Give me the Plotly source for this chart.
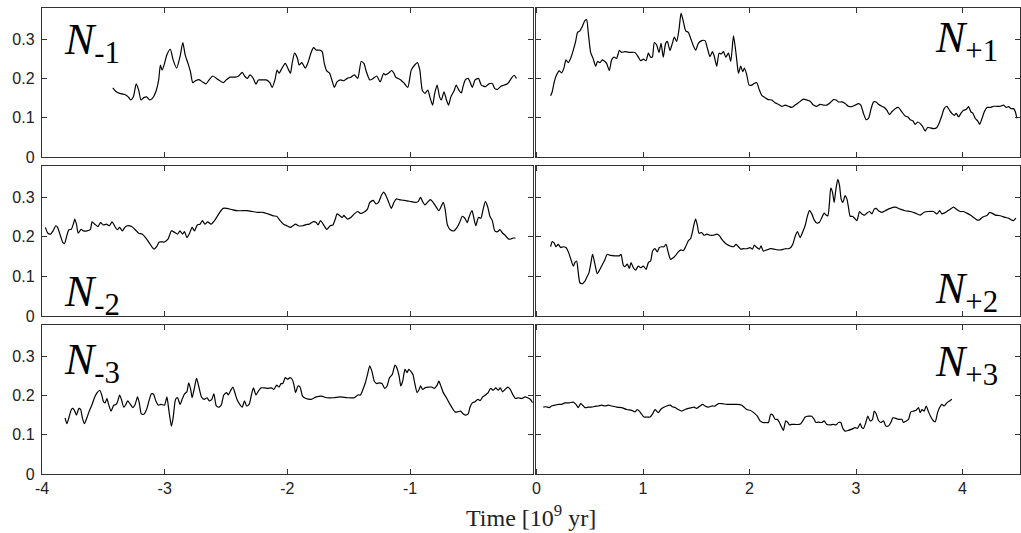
import plotly.graph_objects as go

# ---- data (time in 10^9 yr, values) ----
t_m1 = [-3.423,-3.395,-3.367,-3.325,-3.297,-3.277,-3.255,-3.232,-3.212,-3.193,-3.170,-3.148,-3.122,-3.100,-3.072,-3.049,-3.035,-3.021,-3.001,-2.982,-2.954,-2.931,-2.903,-2.875,-2.852,-2.833,-2.810,-2.790,-2.771,-2.748,-2.720,-2.692,-2.664,-2.636,-2.608,-2.565,-2.523,-2.495,-2.467,-2.425,-2.397,-2.368,-2.349,-2.326,-2.304,-2.278,-2.256,-2.236,-2.214,-2.172,-2.143,-2.124,-2.101,-2.084,-2.068,-2.045,-2.017,-1.989,-1.975,-1.961,-1.941,-1.918,-1.904,-1.882,-1.854,-1.834,-1.806,-1.786,-1.764,-1.736,-1.716,-1.699,-1.679,-1.657,-1.637,-1.617,-1.595,-1.567,-1.539,-1.511,-1.482,-1.454,-1.426,-1.398,-1.376,-1.356,-1.328,-1.300,-1.271,-1.243,-1.215,-1.201,-1.173,-1.150,-1.131,-1.117,-1.075,-1.046,-1.018,-0.990,-0.962,-0.940,-0.920,-0.900,-0.878,-0.855,-0.835,-0.816,-0.799,-0.779,-0.759,-0.745,-0.723,-0.703,-0.686,-0.667,-0.639,-0.624,-0.602,-0.582,-0.568,-0.549,-0.526,-0.506,-0.492,-0.470,-0.442,-0.419,-0.385,-0.357,-0.329,-0.309,-0.287,-0.259,-0.231,-0.203,-0.174,-0.152,-0.132]
v_m1 = [0.176,0.166,0.162,0.159,0.153,0.145,0.153,0.186,0.170,0.145,0.151,0.153,0.145,0.149,0.166,0.196,0.234,0.221,0.238,0.260,0.274,0.247,0.226,0.255,0.291,0.260,0.238,0.217,0.189,0.194,0.197,0.191,0.186,0.197,0.206,0.197,0.189,0.197,0.203,0.203,0.206,0.215,0.206,0.200,0.209,0.200,0.185,0.196,0.196,0.196,0.189,0.177,0.196,0.221,0.213,0.225,0.238,0.221,0.213,0.238,0.264,0.251,0.234,0.240,0.226,0.238,0.266,0.278,0.272,0.272,0.268,0.238,0.219,0.214,0.196,0.177,0.191,0.196,0.194,0.200,0.203,0.209,0.200,0.243,0.238,0.217,0.196,0.200,0.206,0.191,0.213,0.209,0.214,0.220,0.213,0.203,0.196,0.187,0.177,0.221,0.234,0.240,0.221,0.170,0.162,0.170,0.149,0.132,0.162,0.183,0.153,0.145,0.166,0.145,0.132,0.153,0.170,0.183,0.170,0.163,0.179,0.196,0.200,0.187,0.177,0.196,0.200,0.183,0.179,0.186,0.187,0.174,0.172,0.180,0.183,0.187,0.200,0.208,0.200]

t_p1 = [0.132,0.147,0.166,0.188,0.213,0.235,0.257,0.276,0.298,0.320,0.345,0.367,0.385,0.407,0.429,0.454,0.470,0.486,0.508,0.533,0.555,0.573,0.595,0.617,0.636,0.658,0.683,0.705,0.727,0.752,0.777,0.799,0.830,0.877,0.924,0.956,0.977,1.003,1.028,1.050,1.071,1.087,1.106,1.128,1.150,1.169,1.190,1.212,1.228,1.253,1.275,1.294,1.316,1.338,1.357,1.378,1.400,1.425,1.447,1.472,1.495,1.519,1.551,1.582,1.604,1.629,1.651,1.670,1.692,1.714,1.733,1.755,1.777,1.802,1.824,1.849,1.865,1.880,1.896,1.917,1.936,1.952,1.974,1.996,2.021,2.042,2.068,2.090,2.115,2.146,2.177,2.209,2.240,2.271,2.303,2.334,2.366,2.397,2.428,2.459,2.506,2.538,2.569,2.600,2.632,2.663,2.694,2.726,2.757,2.788,2.813,2.835,2.867,2.898,2.929,2.961,2.992,3.023,3.045,3.070,3.095,3.117,3.142,3.164,3.189,3.211,3.242,3.267,3.289,3.314,3.336,3.368,3.399,3.430,3.462,3.487,3.509,3.534,3.556,3.581,3.603,3.625,3.650,3.672,3.697,3.728,3.760,3.785,3.807,3.828,3.853,3.878,3.900,3.922,3.941,3.963,3.985,4.010,4.035,4.057,4.079,4.098,4.120,4.142,4.161,4.183,4.205,4.230,4.261,4.292,4.324,4.355,4.386,4.411,4.433,4.455,4.480,4.496,4.511]
v_p1 = [0.156,0.166,0.191,0.209,0.219,0.214,0.226,0.247,0.240,0.251,0.272,0.294,0.317,0.321,0.332,0.347,0.349,0.315,0.266,0.249,0.231,0.243,0.240,0.247,0.244,0.238,0.220,0.247,0.254,0.251,0.271,0.266,0.268,0.266,0.266,0.254,0.245,0.249,0.245,0.264,0.254,0.254,0.291,0.285,0.266,0.289,0.254,0.289,0.294,0.271,0.289,0.305,0.294,0.325,0.366,0.345,0.321,0.317,0.302,0.283,0.272,0.289,0.296,0.296,0.277,0.255,0.268,0.255,0.231,0.264,0.262,0.268,0.254,0.264,0.243,0.308,0.281,0.247,0.213,0.231,0.217,0.226,0.209,0.183,0.183,0.187,0.189,0.172,0.157,0.151,0.146,0.145,0.138,0.134,0.129,0.132,0.129,0.126,0.132,0.138,0.147,0.145,0.142,0.132,0.129,0.134,0.132,0.132,0.138,0.146,0.145,0.140,0.140,0.136,0.129,0.128,0.132,0.136,0.132,0.111,0.095,0.098,0.123,0.140,0.140,0.134,0.129,0.126,0.119,0.108,0.115,0.123,0.126,0.115,0.104,0.102,0.095,0.092,0.083,0.089,0.085,0.078,0.066,0.075,0.074,0.072,0.075,0.089,0.106,0.123,0.129,0.119,0.111,0.106,0.111,0.102,0.111,0.119,0.121,0.128,0.115,0.111,0.098,0.092,0.083,0.098,0.115,0.126,0.126,0.129,0.129,0.129,0.132,0.126,0.128,0.123,0.123,0.115,0.098]

t_m2 = [-3.972,-3.952,-3.930,-3.910,-3.887,-3.873,-3.851,-3.831,-3.817,-3.797,-3.781,-3.761,-3.741,-3.733,-3.719,-3.705,-3.682,-3.662,-3.634,-3.606,-3.592,-3.570,-3.544,-3.522,-3.499,-3.474,-3.451,-3.429,-3.409,-3.387,-3.367,-3.345,-3.325,-3.305,-3.269,-3.240,-3.212,-3.184,-3.156,-3.128,-3.100,-3.086,-3.066,-3.044,-3.001,-2.973,-2.945,-2.917,-2.895,-2.875,-2.855,-2.838,-2.819,-2.800,-2.776,-2.757,-2.734,-2.712,-2.692,-2.672,-2.650,-2.622,-2.594,-2.571,-2.551,-2.523,-2.495,-2.453,-2.411,-2.368,-2.326,-2.284,-2.242,-2.199,-2.158,-2.115,-2.087,-2.059,-2.031,-2.003,-1.975,-1.955,-1.932,-1.910,-1.876,-1.848,-1.820,-1.792,-1.764,-1.750,-1.730,-1.708,-1.679,-1.651,-1.629,-1.609,-1.595,-1.575,-1.553,-1.539,-1.511,-1.482,-1.454,-1.426,-1.404,-1.376,-1.347,-1.328,-1.300,-1.277,-1.257,-1.235,-1.215,-1.196,-1.173,-1.153,-1.131,-1.111,-1.089,-1.046,-1.004,-0.962,-0.934,-0.914,-0.897,-0.878,-0.858,-0.835,-0.816,-0.794,-0.765,-0.743,-0.729,-0.714,-0.695,-0.672,-0.644,-0.616,-0.596,-0.573,-0.553,-0.533,-0.520,-0.495,-0.484,-0.464,-0.442,-0.422,-0.408,-0.386,-0.366,-0.349,-0.329,-0.309,-0.287,-0.267,-0.245,-0.225,-0.203,-0.182,-0.160,-0.141]
v_m2 = [0.224,0.209,0.207,0.215,0.228,0.224,0.204,0.186,0.183,0.204,0.218,0.219,0.236,0.245,0.232,0.209,0.219,0.215,0.215,0.218,0.238,0.232,0.226,0.236,0.230,0.232,0.228,0.238,0.228,0.218,0.224,0.215,0.224,0.228,0.226,0.218,0.209,0.207,0.198,0.186,0.173,0.169,0.175,0.187,0.187,0.194,0.215,0.211,0.207,0.215,0.207,0.213,0.198,0.207,0.224,0.215,0.230,0.232,0.241,0.232,0.238,0.232,0.241,0.252,0.262,0.272,0.272,0.269,0.266,0.266,0.266,0.264,0.262,0.262,0.258,0.253,0.252,0.241,0.232,0.228,0.224,0.228,0.232,0.228,0.228,0.231,0.232,0.238,0.236,0.230,0.241,0.232,0.219,0.228,0.230,0.245,0.258,0.254,0.249,0.254,0.245,0.249,0.258,0.264,0.259,0.262,0.270,0.287,0.292,0.283,0.287,0.304,0.313,0.304,0.287,0.272,0.287,0.296,0.294,0.292,0.290,0.287,0.289,0.300,0.289,0.281,0.287,0.294,0.289,0.279,0.266,0.279,0.287,0.270,0.230,0.218,0.215,0.224,0.236,0.252,0.247,0.236,0.249,0.266,0.254,0.228,0.249,0.247,0.264,0.289,0.275,0.252,0.241,0.215,0.213,0.218,0.209,0.204,0.196,0.194,0.197,0.197]

t_p2 = [0.132,0.147,0.166,0.182,0.204,0.226,0.251,0.276,0.298,0.320,0.345,0.360,0.376,0.392,0.407,0.432,0.454,0.470,0.492,0.511,0.526,0.548,0.570,0.595,0.620,0.642,0.664,0.695,0.736,0.777,0.793,0.815,0.830,0.852,0.871,0.887,0.909,0.930,0.956,0.977,1.003,1.028,1.050,1.071,1.090,1.112,1.134,1.153,1.175,1.197,1.216,1.237,1.259,1.284,1.306,1.331,1.357,1.378,1.400,1.425,1.447,1.466,1.479,1.494,1.510,1.526,1.551,1.573,1.598,1.629,1.661,1.692,1.717,1.739,1.761,1.786,1.817,1.849,1.873,1.896,1.917,1.942,1.974,2.005,2.027,2.046,2.068,2.093,2.108,2.130,2.162,2.199,2.231,2.262,2.293,2.334,2.365,2.387,2.406,2.428,2.450,2.475,2.500,2.522,2.544,2.563,2.585,2.607,2.632,2.657,2.679,2.701,2.719,2.735,2.751,2.763,2.779,2.795,2.810,2.829,2.845,2.860,2.876,2.898,2.914,2.929,2.945,2.967,2.986,3.008,3.023,3.033,3.055,3.080,3.102,3.127,3.149,3.171,3.189,3.211,3.242,3.274,3.321,3.368,3.415,3.462,3.509,3.556,3.603,3.640,3.681,3.728,3.760,3.785,3.806,3.828,3.853,3.885,3.916,3.947,3.979,4.010,4.041,4.073,4.104,4.135,4.160,4.183,4.208,4.230,4.255,4.276,4.308,4.339,4.370,4.402,4.433,4.455,4.480,4.502]
v_p2 = [0.175,0.188,0.184,0.175,0.181,0.173,0.175,0.173,0.162,0.145,0.126,0.135,0.139,0.109,0.084,0.082,0.088,0.097,0.109,0.135,0.156,0.131,0.107,0.118,0.131,0.143,0.156,0.153,0.152,0.152,0.156,0.128,0.125,0.131,0.120,0.135,0.122,0.116,0.126,0.122,0.126,0.118,0.135,0.139,0.164,0.170,0.162,0.173,0.175,0.175,0.181,0.160,0.143,0.147,0.153,0.162,0.167,0.165,0.175,0.190,0.196,0.215,0.232,0.245,0.229,0.209,0.211,0.204,0.207,0.204,0.204,0.207,0.203,0.194,0.187,0.181,0.177,0.175,0.181,0.175,0.169,0.170,0.170,0.173,0.169,0.179,0.173,0.169,0.177,0.164,0.167,0.170,0.169,0.167,0.167,0.170,0.170,0.173,0.181,0.201,0.213,0.198,0.213,0.228,0.253,0.266,0.258,0.243,0.235,0.237,0.249,0.260,0.255,0.253,0.287,0.323,0.313,0.287,0.318,0.345,0.330,0.296,0.287,0.304,0.296,0.275,0.252,0.252,0.247,0.241,0.255,0.264,0.258,0.255,0.260,0.264,0.258,0.270,0.272,0.266,0.262,0.266,0.272,0.275,0.270,0.266,0.264,0.260,0.255,0.262,0.264,0.264,0.258,0.266,0.258,0.260,0.264,0.270,0.275,0.269,0.264,0.264,0.260,0.255,0.249,0.243,0.243,0.249,0.252,0.254,0.262,0.260,0.255,0.254,0.252,0.249,0.247,0.243,0.241,0.247]

t_m3 = [-3.812,-3.797,-3.781,-3.761,-3.747,-3.733,-3.719,-3.699,-3.685,-3.671,-3.654,-3.634,-3.615,-3.592,-3.570,-3.550,-3.530,-3.513,-3.499,-3.485,-3.471,-3.457,-3.437,-3.415,-3.395,-3.381,-3.367,-3.353,-3.333,-3.316,-3.302,-3.283,-3.260,-3.241,-3.221,-3.207,-3.190,-3.170,-3.148,-3.128,-3.108,-3.091,-3.072,-3.052,-3.030,-3.001,-2.982,-2.965,-2.945,-2.931,-2.911,-2.895,-2.875,-2.855,-2.838,-2.819,-2.804,-2.788,-2.776,-2.757,-2.740,-2.720,-2.700,-2.678,-2.655,-2.636,-2.616,-2.599,-2.579,-2.557,-2.537,-2.518,-2.495,-2.481,-2.461,-2.444,-2.425,-2.411,-2.388,-2.368,-2.349,-2.332,-2.312,-2.293,-2.276,-2.256,-2.236,-2.214,-2.186,-2.158,-2.129,-2.110,-2.087,-2.068,-2.051,-2.037,-2.017,-1.997,-1.980,-1.961,-1.947,-1.933,-1.913,-1.896,-1.876,-1.848,-1.806,-1.764,-1.722,-1.679,-1.623,-1.567,-1.511,-1.454,-1.426,-1.404,-1.384,-1.364,-1.347,-1.328,-1.308,-1.291,-1.271,-1.249,-1.229,-1.207,-1.187,-1.167,-1.145,-1.122,-1.108,-1.089,-1.075,-1.060,-1.041,-1.024,-1.010,-0.990,-0.976,-0.962,-0.942,-0.926,-0.914,-0.897,-0.878,-0.850,-0.821,-0.802,-0.779,-0.765,-0.751,-0.729,-0.703,-0.681,-0.658,-0.633,-0.610,-0.588,-0.568,-0.549,-0.526,-0.512,-0.492,-0.470,-0.447,-0.428,-0.408,-0.385,-0.363,-0.343,-0.323,-0.301,-0.281,-0.265,-0.245,-0.225,-0.203,-0.183,-0.160,-0.141,-0.118,-0.090,-0.062,-0.042,-0.020,0.000]
v_m3 = [0.143,0.128,0.143,0.164,0.167,0.160,0.150,0.167,0.164,0.143,0.128,0.143,0.160,0.177,0.196,0.207,0.213,0.201,0.184,0.181,0.192,0.177,0.160,0.175,0.177,0.187,0.201,0.190,0.170,0.177,0.186,0.179,0.169,0.177,0.196,0.181,0.153,0.152,0.164,0.186,0.204,0.203,0.186,0.175,0.177,0.175,0.196,0.160,0.122,0.143,0.190,0.194,0.177,0.192,0.204,0.209,0.232,0.215,0.194,0.220,0.243,0.220,0.196,0.190,0.194,0.186,0.190,0.204,0.173,0.170,0.177,0.201,0.207,0.201,0.213,0.221,0.204,0.190,0.177,0.170,0.186,0.173,0.177,0.201,0.219,0.201,0.211,0.219,0.219,0.218,0.219,0.215,0.226,0.221,0.230,0.230,0.245,0.241,0.245,0.241,0.228,0.207,0.224,0.221,0.198,0.192,0.190,0.196,0.198,0.194,0.194,0.196,0.194,0.194,0.201,0.201,0.215,0.232,0.253,0.275,0.258,0.236,0.230,0.232,0.230,0.218,0.224,0.245,0.253,0.277,0.270,0.249,0.224,0.236,0.266,0.258,0.266,0.260,0.253,0.232,0.207,0.215,0.224,0.215,0.219,0.221,0.221,0.218,0.226,0.236,0.226,0.207,0.194,0.181,0.169,0.158,0.158,0.160,0.153,0.150,0.153,0.169,0.181,0.184,0.190,0.187,0.196,0.201,0.207,0.218,0.213,0.219,0.213,0.219,0.209,0.215,0.221,0.215,0.201,0.192,0.194,0.192,0.196,0.194,0.190,0.181]

t_p3 = [0.063,0.088,0.119,0.141,0.172,0.204,0.235,0.266,0.307,0.345,0.370,0.392,0.414,0.432,0.454,0.486,0.517,0.548,0.580,0.611,0.642,0.674,0.705,0.752,0.799,0.846,0.893,0.924,0.946,0.965,0.987,1.009,1.034,1.065,1.090,1.112,1.128,1.144,1.165,1.190,1.222,1.253,1.278,1.300,1.331,1.363,1.394,1.425,1.457,1.479,1.504,1.535,1.560,1.582,1.613,1.645,1.676,1.707,1.739,1.786,1.833,1.880,1.927,1.949,1.974,2.005,2.030,2.052,2.074,2.099,2.124,2.155,2.177,2.199,2.218,2.240,2.262,2.281,2.296,2.318,2.340,2.359,2.375,2.397,2.428,2.459,2.481,2.500,2.522,2.554,2.585,2.607,2.625,2.647,2.679,2.701,2.726,2.757,2.788,2.813,2.835,2.857,2.876,2.898,2.929,2.961,2.992,3.014,3.039,3.055,3.070,3.092,3.111,3.133,3.155,3.171,3.189,3.211,3.233,3.258,3.280,3.305,3.327,3.346,3.368,3.399,3.430,3.446,3.471,3.493,3.515,3.540,3.565,3.587,3.603,3.619,3.640,3.659,3.681,3.703,3.728,3.744,3.766,3.785,3.806,3.828,3.853,3.885,3.900]
v_p3 = [0.170,0.171,0.169,0.173,0.175,0.177,0.177,0.181,0.181,0.183,0.177,0.169,0.179,0.175,0.169,0.170,0.170,0.172,0.173,0.175,0.173,0.175,0.173,0.170,0.169,0.164,0.162,0.158,0.164,0.160,0.152,0.145,0.145,0.145,0.153,0.164,0.160,0.156,0.164,0.169,0.173,0.175,0.171,0.169,0.164,0.160,0.164,0.167,0.169,0.170,0.167,0.173,0.177,0.173,0.170,0.173,0.173,0.179,0.179,0.177,0.177,0.177,0.175,0.170,0.164,0.162,0.158,0.153,0.147,0.135,0.131,0.131,0.131,0.152,0.150,0.139,0.139,0.131,0.122,0.111,0.135,0.131,0.125,0.126,0.126,0.126,0.128,0.135,0.145,0.147,0.147,0.139,0.131,0.132,0.131,0.135,0.126,0.125,0.126,0.125,0.131,0.131,0.116,0.109,0.111,0.114,0.118,0.116,0.128,0.118,0.116,0.131,0.147,0.135,0.139,0.160,0.153,0.136,0.131,0.135,0.122,0.122,0.131,0.143,0.142,0.139,0.139,0.131,0.135,0.139,0.158,0.160,0.162,0.169,0.156,0.164,0.160,0.173,0.158,0.145,0.135,0.133,0.156,0.169,0.177,0.173,0.181,0.187,0.190]

labels = ["<i>N</i><sub>-1</sub>", "<i>N</i><sub>+1</sub>",
          "<i>N</i><sub>-2</sub>", "<i>N</i><sub>+2</sub>",
          "<i>N</i><sub>-3</sub>", "<i>N</i><sub>+3</sub>"]
y_ticks = [0, 0.1, 0.2, 0.3]
y_ticktext = ["0", "0.1", "0.2", "0.3"]
x_left_ticks = [-4, -3, -2, -1]
x_left_text = ["-4", "-3", "-2", "-1"]
x_right_ticks = [0, 1, 2, 3, 4]
x_right_text = ["0", "1", "2", "3", "4"]
x_title = "Time [10<sup>9</sup> yr]"

series = [(t_m1, v_m1), (t_p1, v_p1), (t_m2, v_m2), (t_p2, v_p2), (t_m3, v_m3), (t_p3, v_p3)]

W, H = 1021, 533
ML, MR, MT, MB = 42, 1, 8, 59
PW, PH = W - ML - MR, H - MT - MB

def px_x(p):
    return (p - ML) / PW

def px_y(p):
    return (H - MB - p) / PH

col_dom = [[px_x(42), px_x(532.7)], [px_x(535.5), px_x(1020)]]
row_dom = [[px_y(157), px_y(8)], [px_y(316), px_y(166)], [px_y(474), px_y(325)]]

fig = go.Figure()
layout = dict(width=W, height=H, margin=dict(l=ML, r=MR, t=MT, b=MB),
              plot_bgcolor="white", paper_bgcolor="white", showlegend=False)

SANS = "Liberation Sans"
SERIF = "Liberation Serif"
tickfont = dict(family=SANS, size=16, color="#222")
for i, (t, v) in enumerate(series):
    r, c = i // 2, i % 2
    n = i + 1
    xa = "x" if n == 1 else f"x{n}"
    ya = "y" if n == 1 else f"y{n}"
    fig.add_trace(go.Scatter(x=t, y=v, mode="lines",
                             line=dict(color="black", width=1.2, shape="spline", smoothing=0.6),
                             xaxis=xa, yaxis=ya, hoverinfo="skip"))
    xkey = "xaxis" if n == 1 else f"xaxis{n}"
    ykey = "yaxis" if n == 1 else f"yaxis{n}"
    common = dict(showline=True, linecolor="#333", linewidth=1.4, mirror="ticks",
                  ticks="inside", ticklen=5, tickwidth=1, tickcolor="#333",
                  showgrid=False, zeroline=False, tickfont=tickfont)
    if c == 0:
        xr = [-4, 0]; tv = x_left_ticks; tt = x_left_text
    else:
        xr = [-0.01, 4.54]; tv = x_right_ticks; tt = x_right_text
    layout[xkey] = dict(common, domain=col_dom[c], range=xr, tickmode="array",
                        tickvals=tv, ticktext=tt, showticklabels=(r == 2),
                        anchor=ya)
    layout[ykey] = dict(common, domain=row_dom[r], range=[0, 0.379], tickmode="array",
                        tickvals=y_ticks, ticktext=y_ticktext, showticklabels=(c == 0),
                        anchor=xa, ticklabelstandoff=3)

annots = []
lab_font = dict(family=SERIF, size=44, color="black")
lab_pos = [(62, 43, "left"), (1000, 41, "right"),
           (62, 294, "left"), (1000, 291, "right"),
           (62, 362, "left"), (1000, 364, "right")]
for txt, (xp, yp, anc) in zip(labels, lab_pos):
    annots.append(dict(text=txt, xref="paper", yref="paper", x=px_x(xp), y=px_y(yp),
                       xanchor=anc, yanchor="middle", showarrow=False, font=lab_font))
annots.append(dict(text=x_title, xref="paper", yref="paper", x=px_x(531), y=px_y(516),
                   xanchor="center", yanchor="middle", showarrow=False,
                   font=dict(family=SERIF, size=24, color="#222")))
layout["annotations"] = annots
fig.update_layout(**layout)
fig.write_html("out.html", config={"displayModeBar": False},
               post_script="document.body.style.margin='0px';document.body.style.overflow='hidden';")
